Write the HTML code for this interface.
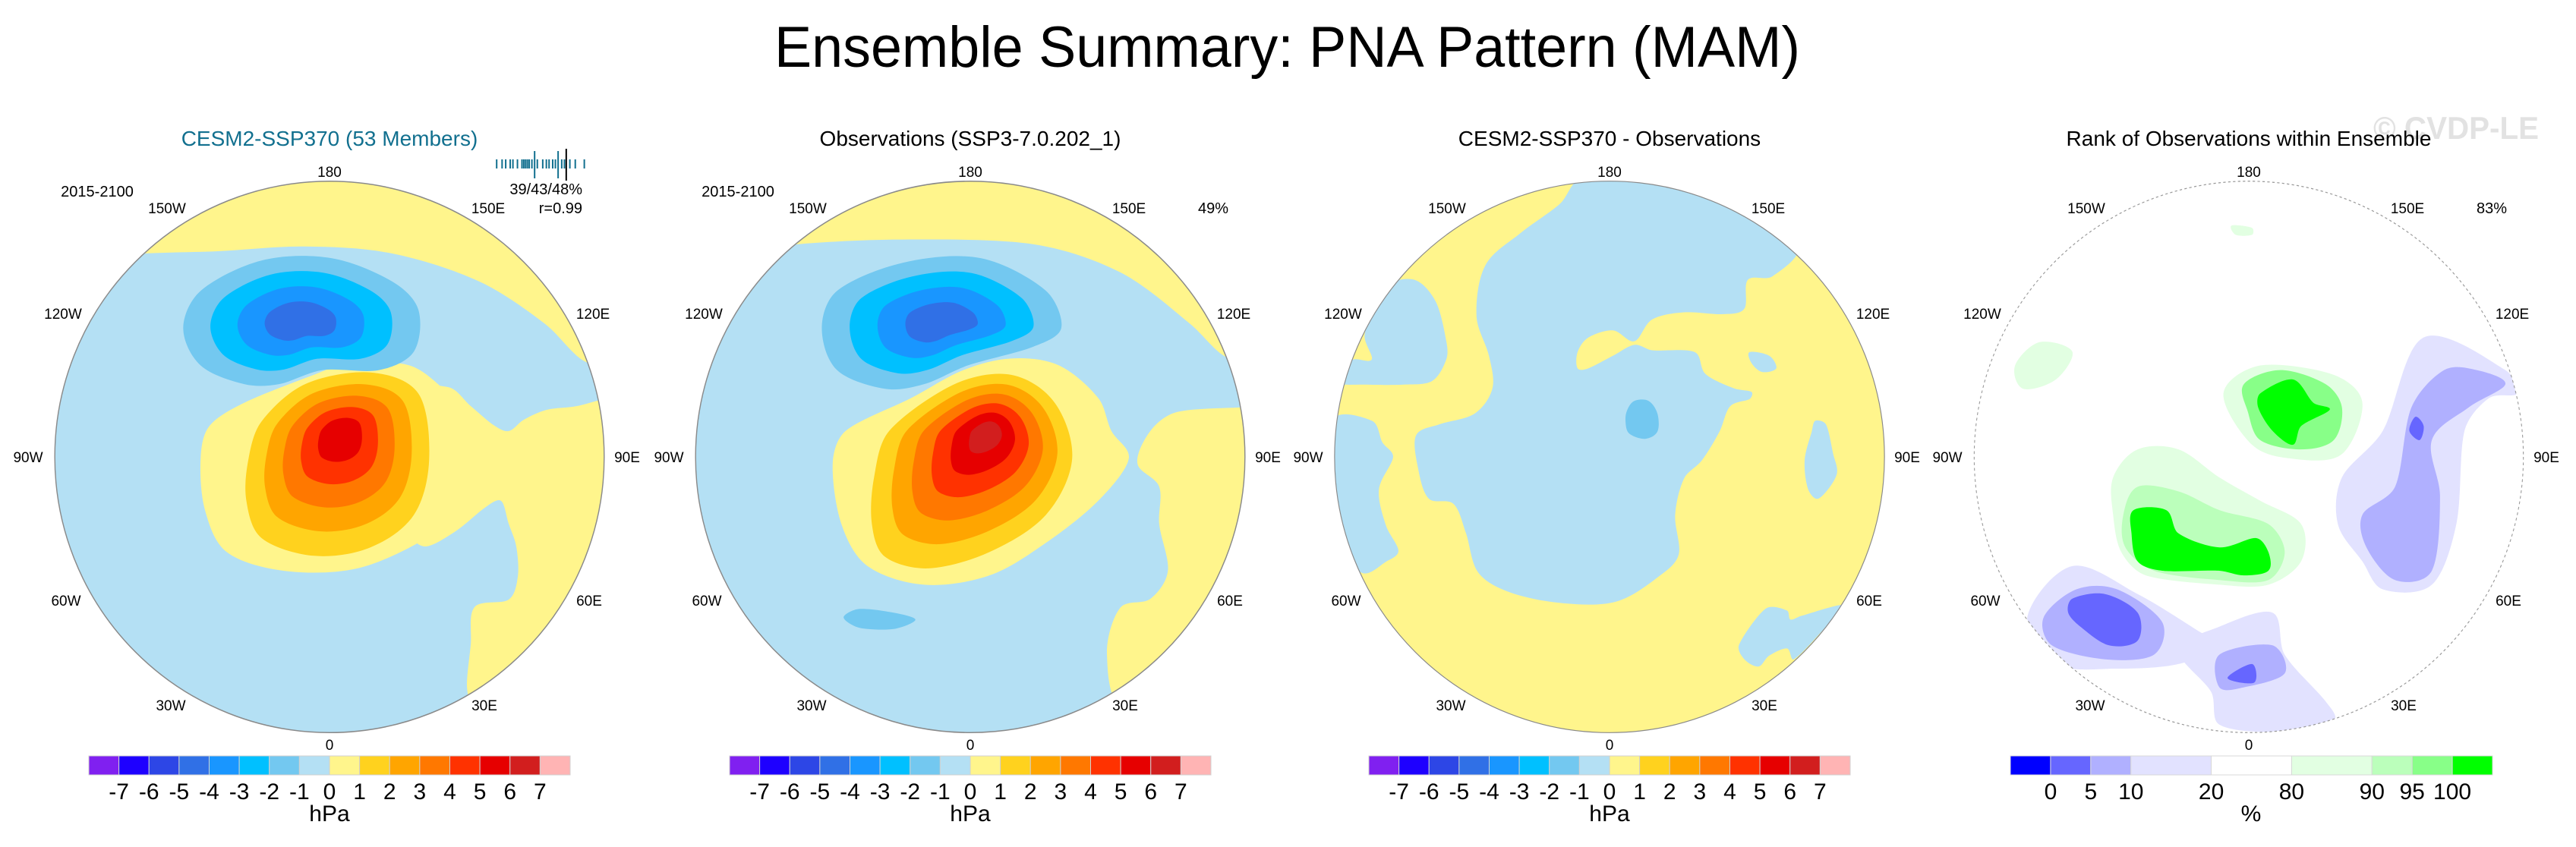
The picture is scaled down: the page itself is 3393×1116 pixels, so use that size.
<!DOCTYPE html>
<html><head><meta charset="utf-8"><title>Ensemble Summary: PNA Pattern (MAM)</title>
<style>html,body{margin:0;padding:0;background:#fff;overflow:hidden}svg{display:block}text{font-family:"Liberation Sans",sans-serif}</style>
</head><body>
<svg id="fig" xmlns="http://www.w3.org/2000/svg" width="3393" height="1116" viewBox="0 0 3393 1116" overflow="hidden">
<rect width="3393" height="1116" fill="#fff"/>
<text x="1020" y="88" font-size="76" textLength="1351" lengthAdjust="spacingAndGlyphs">Ensemble Summary: PNA Pattern (MAM)</text>
<text x="3126" y="183" font-size="42" font-weight="bold" fill="#e2e2e2" textLength="218" lengthAdjust="spacingAndGlyphs">© CVDP-LE</text>
</svg>
<script>
// ---- data ----
const hpaLevels = [-7,-6,-5,-4,-3,-2,-1,0,1,2,3,4,5,6,7];
const hpaColors = ["#8020f0","#1e00ff","#2d46e6","#3070e6","#1996ff","#00c0ff","#73c8f0","#b4e0f4","#fff58c","#ffd21e","#ffa500","#ff7800","#ff3200","#e60000","#d21e1e","#ffb4b4"];
const rankLabels = [0,5,10,20,80,90,95,100];
const rankBinUnits = [1,1,1,2,2,2,1,1,1];
const rankColors = ["#0000ff","#6666ff","#b0b0ff","#e2e2ff","#ffffff","#e2ffe2","#bbffbb","#88ff88","#00ff00"];
const panelTitles = ["CESM2-SSP370 (53 Members)","Observations (SSP3-7.0.202_1)","CESM2-SSP370 - Observations","Rank of Observations within Ensemble"];
const panelHighPeak = [5.5, 6.2, 0];
const panelLowPeak = [-4.3, -4.3, -1.2];
const memberTicks = [0.01,0.07,0.11,0.16,0.19,0.24,0.29,0.31,0.33,0.35,0.37,0.40,0.43,0.46,0.52,0.56,0.59,0.63,0.66,0.69,0.73,0.76,0.82,0.88,0.98];
const memberLong = [0.43,0.69];
const obsTick = 0.78;
const lonLabels = ["180","150W","150E","120W","120E","90W","90E","60W","60E","30W","30E","0"];

// ---- layout ----
const NS="http://www.w3.org/2000/svg";
const svg=document.getElementById('fig');
const CX=[434,1278,2120,2962], CY=602;
const lonOff=[[0,-369],[-214,-321],[209,-321],[-351,-182],[347,-182],[-397,7],[392,7],[-347,196],[342,196],[-209,334],[204,334],[0,386]];
function el(tag,attrs,parent){const e=document.createElementNS(NS,tag);for(const k in attrs)e.setAttribute(k,attrs[k]);(parent||svg).appendChild(e);return e;}
function clampH(dx,dy,maxLen){const l=Math.hypot(dx,dy);if(l>maxLen&&l>0){return [dx*maxLen/l,dy*maxLen/l];}return [dx,dy];}
function smooth(p){let d=`M${p[0][0]},${p[0][1]}`;const n=p.length;for(let i=0;i<n;i++){const p0=p[(i-1+n)%n],p1=p[i],p2=p[(i+1)%n],p3=p[(i+2)%n];
 const seg=Math.hypot(p2[0]-p1[0],p2[1]-p1[1])/3;
 const h1=clampH((p2[0]-p0[0])/6,(p2[1]-p0[1])/6,seg);
 const h2=clampH((p3[0]-p1[0])/6,(p3[1]-p1[1])/6,seg);
 d+=` C${p1[0]+h1[0]},${p1[1]+h1[1]} ${p2[0]-h2[0]},${p2[1]-h2[1]} ${p2[0]},${p2[1]}`;}return d+'Z';}
function colorForLevel(k){return k>0?hpaColors[k+8]:hpaColors[7+k];}
function shape(g,pts,fill,name){const e=el('path',{d:smooth(pts),fill:fill},g);return e;}
function scalePts(pts,c,f){return pts.map(p=>[c[0]+(p[0]-c[0])*f,c[1]+(p[1]-c[1])*f]);}

// panel 1 right-side positive region traced in page coordinates (converted to panel coords below)
const p1RightReal=[[540,520],[590,510],[620,535],[650,560],[670,568],[690,553],[720,540],[760,535],[820,520],[870,520],[870,990],[620,990],[618,930],[615,900],[620,850],[625,800],[670,790],[682,760],[680,720],[670,690],[660,660],[640,668],[600,700],[560,720],[540,700]];
const p1Right=p1RightReal.map(p=>[756+(p[0]-434)*1.744,756+(p[1]-602)*1.627]);

const geom = [
 {T:{sx:1/1.744,sy:1/1.627,c:[756,756],rx:631,ry:591}, bg:"#b4e0f4",
  yellow:[[[200,200],[700,150],[1400,200],[1420,560],[1340,550],[1250,470],[1100,380],[900,320],[700,305],[500,315],[330,320],[200,330]],
          [[460,760],[480,690],[560,640],[720,580],[800,555],[940,560],[1030,620],[1100,680],[1100,800],[1080,860],[980,930],[820,995],[650,1000],[520,960],[470,870]],
          p1Right],
  high:[[570,760],[600,680],[700,600],[850,575],[960,620],[985,760],[950,880],[850,950],[720,968],[600,930],[565,850]], hc:[782,703],
  low:[[420,480],[460,400],[600,335],[760,330],[900,380],[960,440],[950,530],[870,570],[740,570],[640,600],[560,600],[460,560]], lc:[688,465], lightblue:[], blue:[]},
 {T:{sx:1/1.744,sy:1/1.627,c:[756,756],rx:631,ry:591}, bg:"#b4e0f4",
  yellow:[[[200,200],[700,150],[1400,200],[1420,560],[1340,540],[1260,470],[1100,360],[900,300],[600,290],[360,300],[200,320]],
          [[440,770],[470,700],[620,630],[740,570],[850,545],[960,560],[1050,630],[1080,700],[1120,760],[1050,850],[930,940],[800,1010],[650,1030],[520,990],[460,900]],
          [[1420,650],[1375,650],[1230,660],[1170,700],[1140,770],[1190,820],[1190,900],[1210,1000],[1170,1060],[1100,1080],[1070,1180],[1110,1300],[1300,1300],[1420,1100],[1420,900]]],
  high:[[535,800],[570,700],[720,600],[850,580],[950,640],[990,760],[930,880],[800,960],[660,995],[560,970],[530,900]], hc:[797,700],
  low:[[415,480],[450,400],[600,340],[780,330],[930,400],[965,480],[900,520],[750,560],[650,600],[560,610],[450,570]], lc:[690,467],
  lightblue:[], blue:[[[465,1100],[500,1082],[580,1090],[630,1105],[580,1125],[500,1122]]]},
 {T:{sx:1/2.14,sy:1/2.10,c:[780,790],rx:775,ry:763}, bg:"#fff58c", yellow:[], high:null, low:null,
  lightblue:[
   [[640,90],[700,20],[900,20],[1100,60],[1310,200],[1240,290],[1170,300],[1160,380],[1100,395],[990,390],[900,410],[850,470],[790,440],[720,460],[690,500],[690,545],[720,545],[790,510],[850,480],[900,495],[1020,500],[1050,560],[1130,600],[1180,610],[1175,630],[1120,650],[1090,720],[1040,800],[990,850],[965,950],[975,1060],[920,1120],[800,1190],[650,1195],[500,1165],[410,1110],[375,1000],[340,920],[270,905],[240,820],[235,730],[300,700],[400,670],[450,600],[440,510],[405,400],[430,260],[530,170]],
   [[90,450],[150,320],[230,300],[290,360],[320,470],[320,520],[280,580],[200,590],[90,590],[10,585],[20,540],[60,520],[110,520]],
   [[0,690],[110,690],[140,750],[170,790],[130,880],[150,980],[185,1050],[150,1080],[80,1110],[0,1000]],
   [[1360,690],[1390,700],[1410,780],[1420,840],[1370,905],[1340,880],[1330,800],[1350,720]],
   [[1175,500],[1230,510],[1250,545],[1210,555],[1180,530]],
   [[1145,1310],[1220,1210],[1280,1215],[1290,1240],[1320,1230],[1440,1200],[1390,1260],[1300,1350],[1280,1320],[1230,1340],[1200,1370],[1160,1350]]],
  blue:[[[830,660],[850,635],[890,635],[915,670],[915,720],[880,740],[835,725],[825,690]]]}
];
const T4={sx:1/1.858,sy:1/1.627,c:[772,756],rx:672,ry:591};

function panelText(i){
 const cx=CX[i];
 const t=el('text',{x:cx,y:192,'font-size':28,'text-anchor':'middle',fill:i===0?'#12708f':'#000'});
 t.textContent=panelTitles[i];
 
 
 lonLabels.forEach((lab,j)=>{
  const tx=el('text',{x:cx+lonOff[j][0],y:CY+lonOff[j][1],'font-size':19,'text-anchor':'middle'});
  tx.textContent=lab;
  
  
 });
}

for(let i=0;i<3;i++){
 const G=geom[i], T=G.T, cx=CX[i];
 const g=el('g',{transform:`translate(${cx},${CY}) scale(${T.sx},${T.sy}) translate(${-T.c[0]},${-T.c[1]})`});
 
 
 const cp=el('clipPath',{id:'clip'+i},g);
 el('ellipse',{cx:T.c[0],cy:T.c[1],rx:T.rx,ry:T.ry},cp);
 const inner=el('g',{'clip-path':`url(#clip${i})`},g);
 el('rect',{x:T.c[0]-T.rx,y:T.c[1]-T.ry,width:2*T.rx,height:2*T.ry,fill:G.bg},inner);
 G.yellow.forEach(p=>shape(inner,p,"#fff58c",'positive-region'));
 G.lightblue.forEach(p=>shape(inner,p,"#b4e0f4",'negative-region'));
 G.blue.forEach(p=>shape(inner,p,colorForLevel(-1),'contour-minus-1'));
 if(G.high){
  const amp=panelHighPeak[i];
  for(let k=1;k<=Math.floor(amp);k++){
   const f=Math.pow(1-(k-1)/amp,1.1);
   shape(inner,scalePts(G.high,G.hc,f),colorForLevel(k),'contour-plus-'+k);
  }
 }
 if(G.low){
  const amp=-panelLowPeak[i];
  for(let k=1;k<=Math.floor(amp);k++){
   const f=1-(k-1)/amp;
   shape(inner,scalePts(G.low,G.lc,f),colorForLevel(-k),'contour-minus-'+k);
  }
 }
 el('ellipse',{cx:T.c[0],cy:T.c[1],rx:T.rx,ry:T.ry,fill:'none',stroke:'#8a8a8a','stroke-width':2.5},g);
 panelText(i);
 const bx=cx-317, bw=634/16;
 const bar=el('g',{});
 
 
 hpaColors.forEach((c,j)=>{const r=el('rect',{x:bx+j*bw,y:996,width:bw,height:25,fill:c,stroke:'#d0d0d0','stroke-width':1},bar);
  });
 hpaLevels.forEach((v,j)=>{const t=el('text',{x:bx+(j+1)*bw,y:1053,'font-size':30,'text-anchor':'middle'},bar);t.textContent=String(v);
  });
 const u=el('text',{x:cx,y:1082,'font-size':30,'text-anchor':'middle'},bar);u.textContent='hPa';
 
}

function txt(x,y,s,anchor,name){const t=el('text',{x:x,y:y,'font-size':20,'text-anchor':anchor});t.textContent=s;}
txt(128,259,'2015-2100','middle','period-label');
txt(1278-306,259,'2015-2100','middle','period-label');
txt(767,256,'39/43/48%','end','pattern-stats');
txt(767,281,'r=0.99','end','pattern-correlation');
txt(1618,281,'49%','end','obs-variance');
txt(3302,281,'83%','end','rank-percent');
const tx0=653, tw=119;
memberTicks.forEach(v=>{const long=memberLong.includes(v);const l=el('line',{x1:tx0+v*tw,x2:tx0+v*tw,y1:long?199:210,y2:long?235:222,stroke:'#12708f','stroke-width':2});
 });
const ob=el('line',{x1:tx0+obsTick*tw,x2:tx0+obsTick*tw,y1:196,y2:238,stroke:'#000','stroke-width':2});


// ---- rank panel ----
{
 const T=T4,cx=CX[3];
 const g=el('g',{transform:`translate(${cx},${CY}) scale(${T.sx},${T.sy}) translate(${-T.c[0]},${-T.c[1]})`});
 
 
 const cp=el('clipPath',{id:'clip3'},g);
 el('ellipse',{cx:T.c[0],cy:T.c[1],rx:T.rx,ry:T.ry},cp);
 const inner=el('g',{'clip-path':'url(#clip3)'},g);
 const R=[
  [3,[[230,1100],[340,990],[500,1050],[650,1130],[700,1160],[600,1200],[450,1210],[300,1200]]],
  [2,[[270,1100],[350,1040],[450,1040],[560,1110],[540,1180],[420,1190],[290,1160]]],
  [1,[[340,1060],[420,1050],[500,1090],[500,1150],[430,1160],[360,1120],[330,1090]]],
  [3,[[1000,800],[1100,700],[1200,500],[1400,570],[1430,620],[1360,630],[1300,700],[1280,900],[1220,1030],[1100,1040],[1050,980],[990,900]]],
  [2,[[1050,880],[1130,820],[1170,650],[1250,570],[1330,570],[1400,600],[1310,650],[1220,720],[1240,840],[1220,1000],[1130,1020],[1060,950]]],
  [1,[[1165,700],[1180,670],[1200,690],[1190,720]]],
  [3,[[600,1170],[700,1120],[830,1090],[860,1180],[960,1280],[980,1320],[840,1345],[700,1330],[680,1260]]],
  [2,[[700,1180],[830,1160],[860,1220],[760,1250],[700,1250]]],
  [1,[[720,1230],[780,1200],[785,1240]]],
  [5,[[440,800],[500,740],[600,740],[700,800],[800,850],[900,900],[900,980],[820,1030],[700,1030],[520,1010],[460,960],[440,880]]],
  [6,[[465,880],[500,820],[600,830],[700,870],[820,900],[860,960],[820,1020],[700,1020],[540,1000],[470,950]]],
  [8,[[490,870],[570,870],[600,920],[700,950],[790,930],[820,960],[820,1000],[760,1010],[700,1000],[560,1000],[500,980],[485,920]]],
  [5,[[710,620],[800,560],[980,580],[1050,640],[1000,750],[880,760],[780,730]]],
  [7,[[760,600],[850,570],[960,600],[1000,650],[980,720],[900,740],[800,720],[770,660]]],
  [8,[[800,620],[880,590],[930,640],[970,655],[900,690],[880,730],[830,700],[795,650]]],
  [5,[[200,560],[260,510],[340,530],[300,590],[220,610]]],
  [5,[[730,260],[780,265],[780,280],[740,280]]]
 ];
 R.forEach(([bin,p])=>shape(inner,p,rankColors[bin],'rank-region-bin-'+bin));
 el('ellipse',{cx:T.c[0],cy:T.c[1],rx:T.rx,ry:T.ry,fill:'none',stroke:'#999','stroke-width':2,'stroke-dasharray':'6,6'},g);
 panelText(3);
 const bx=2648, unit=635/12;
 const bar=el('g',{});
 
 
 let acc=0;
 rankBinUnits.forEach((w,j)=>{const r=el('rect',{x:bx+acc*unit,y:996,width:w*unit,height:25,fill:rankColors[j],stroke:'#d8d8d8','stroke-width':1},bar);
  
  acc+=w;
  if(j<rankLabels.length){const t=el('text',{x:bx+acc*unit,y:1053,'font-size':30,'text-anchor':'middle'},bar);t.textContent=String(rankLabels[j]);
   }});
 const u=el('text',{x:2965,y:1082,'font-size':30,'text-anchor':'middle'},bar);u.textContent='%';
 
}
</script>
</body></html>
